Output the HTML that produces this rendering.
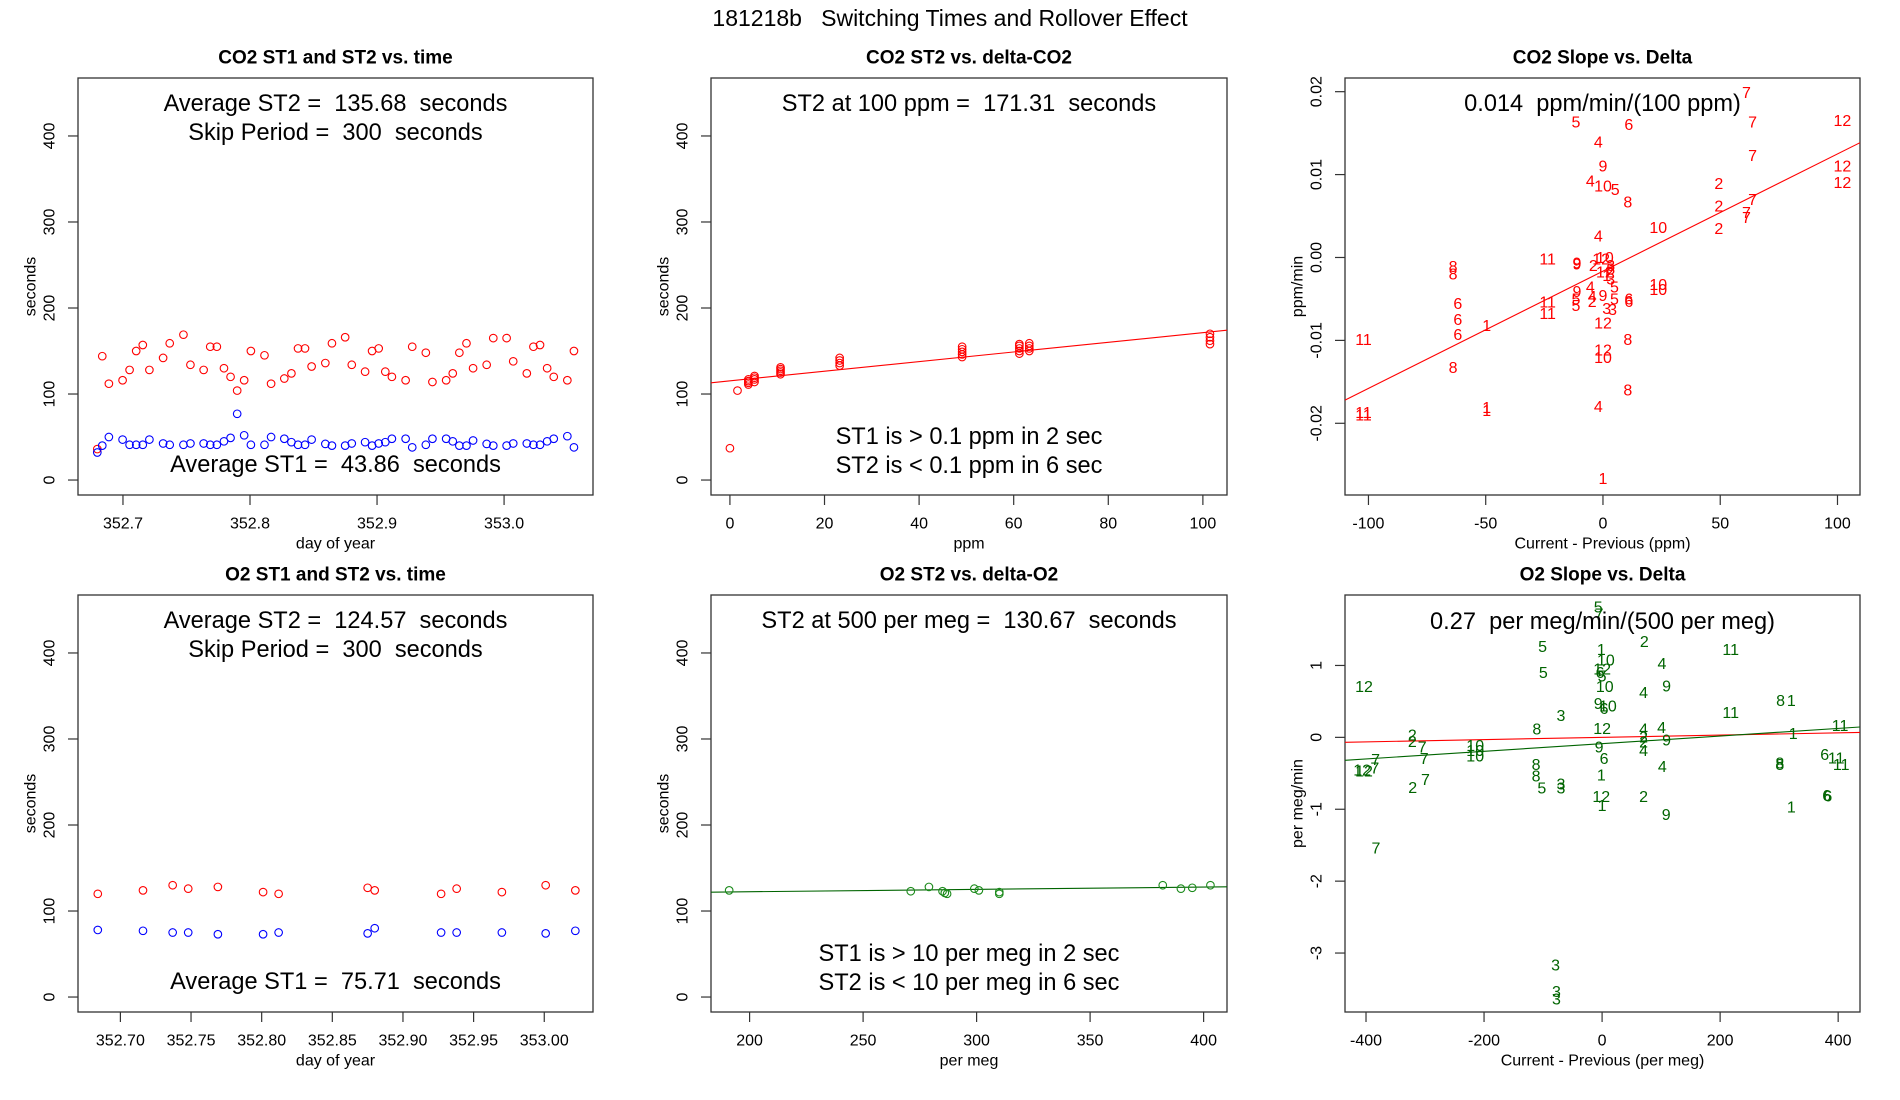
<!DOCTYPE html>
<html><head><meta charset="utf-8"><title>181218b Switching Times and Rollover Effect</title>
<style>
html,body{margin:0;padding:0;background:#fff;}
svg{display:block;font-family:"Liberation Sans",Arial,sans-serif;}
text{white-space:pre;}
</style></head>
<body>
<svg id="fig" width="1900" height="1100" viewBox="0 0 1900 1100" xmlns="http://www.w3.org/2000/svg">
<rect x="0" y="0" width="1900" height="1100" fill="#fff"/>
<text x="950" y="18" font-size="23" text-anchor="middle" dominant-baseline="central" xml:space="preserve">181218b   Switching Times and Rollover Effect</text>
</svg>
<script>
// ---- Panel 1: CO2 ST1/ST2 vs time ----
const co2Days = [352.6798,352.6837,352.6889,352.6997,352.7052,352.7104,352.7156,352.7208,352.7316,352.7368,352.7476,352.7531,352.7635,352.7687,352.7739,352.7795,352.7847,352.7899,352.7954,352.8007,352.8114,352.8166,352.8270,352.8326,352.8378,352.8433,352.8485,352.8593,352.8645,352.8749,352.8801,352.8906,352.8961,352.9013,352.9065,352.9117,352.9225,352.9277,352.9384,352.9436,352.9544,352.9596,352.9648,352.9704,352.9756,352.9863,352.9915,353.0020,353.0072,353.0179,353.0231,353.0283,353.0339,353.0391,353.0498,353.0550];
const co2St2 = [36,144,112,116,128,150,157,128,142,159,169,134,128,155,155,130,120,104,116,150,145,112,118,124,153,153,132,136,159,166,134,126,150,153,126,120,116,155,148,114,116,124,148,159,130,134,165,165,138,124,155,157,130,120,116,150];
const co2St1 = [32,40,50,47,41,41,41,47,42.5,41,41,42.5,42.5,41,41,45,49,77,52,41,41,50,48,44,41,41,47,42,40,40,42.5,44,40,42.5,44,48,48,38,41,48,48,45,40,40,46,42,40,40,42.5,42.5,41,41,45,48,51,38];
const timeTicks1 = [352.7,352.8,352.9,353.0];
const timeTickLabels1 = ["352.7","352.8","352.9","353.0"];
const secTicks = [0,100,200,300,400];
const secTickLabels = ["0","100","200","300","400"];

// ---- Panel 2: CO2 ST2 vs delta ----
const co2Delta = [0,1.6,3.9,3.9,3.9,3.9,5.2,5.2,5.2,5.2,10.7,10.7,10.7,10.7,10.7,23.2,23.2,23.2,23.2,49.1,49.1,49.1,49.1,49.1,61.2,61.2,61.2,61.2,61.2,63.3,63.3,63.3,63.3,101.5,101.5,101.5,101.5];
const co2DeltaSt2 = [37,104,111,113,115,117,114,117,119,121,123,125,127,129,131,133,136,139,142,143,146,149,152,155,147,150,153,156,158,150,153,156,159,158,162,166,170];
const co2FitIntercept = 115.3;
const co2FitSlope = 0.56;
const ppmTicks = [0,20,40,60,80,100];
const ppmTickLabels = ["0","20","40","60","80","100"];

// ---- Panel 3: CO2 slope vs delta ----
const co2SlopeLabels = ["7","5","6","7","12","4","7","9","12","4","10","5","12","2","8","7","2","7","7","10","2","4","11","9","9","2","12","10","3","8","8","8","12","1","3","5","10","10","4","9","11","5","5","4","2","9","5","6","6","3","3","6","6","6","11","1","12","11","8","12","10","8","8","4","1","1","11","11","1"];
const co2SlopeX = [61.2,-11.5,11.0,63.8,102.1,-2.0,63.8,0,102.1,-5.4,0,5.2,102.1,49.4,10.6,63.8,49.4,61.2,61.2,23.6,49.4,-2.0,-23.6,-11.1,-11.1,-4.1,-0.8,0.8,3.3,3.3,-63.9,-63.9,0.8,1.6,3.3,4.9,23.6,23.6,-5.4,-11.1,-23.6,-11.5,-11.5,-4.6,-4.6,0,4.9,11.0,11.0,1.6,4.1,-61.9,-61.9,-61.9,-23.6,-49.6,0,-102.1,10.6,0,0,-63.9,10.6,-2.0,-49.6,-49.6,-102.1,-102.1,0];
const co2SlopeY = [0.0198,0.0162,0.0159,0.0162,0.0164,0.0138,0.0122,0.0109,0.0109,0.0091,0.0085,0.0081,0.0089,0.0088,0.0066,0.0069,0.0061,0.0053,0.0047,0.0035,0.0034,0.0025,-0.0003,-0.0009,-0.0008,-0.0011,-0.0003,-0.0001,-0.0011,-0.0015,-0.0012,-0.0021,-0.0019,-0.0023,-0.0027,-0.0037,-0.0034,-0.0040,-0.0037,-0.0042,-0.0055,-0.0051,-0.0059,-0.0048,-0.0054,-0.0047,-0.0051,-0.0051,-0.0054,-0.0063,-0.0064,-0.0057,-0.0076,-0.0094,-0.0069,-0.0083,-0.0080,-0.0100,-0.0100,-0.0113,-0.0122,-0.0134,-0.0161,-0.0181,-0.0182,-0.0186,-0.0188,-0.0191,-0.0268];
const co2SlopeFitIntercept = -0.00165;
const co2SlopeFitSlope = 0.0001414;
const co2DeltaTicks = [-100,-50,0,50,100];
const co2DeltaTickLabels = ["-100","-50","0","50","100"];
const co2SlopeTicks = [-0.02,-0.01,0,0.01,0.02];
const co2SlopeTickLabels = ["-0.02","-0.01","0.00","0.01","0.02"];

// ---- Panel 4: O2 ST1/ST2 vs time ----
const o2Days = [352.684,352.716,352.737,352.748,352.769,352.801,352.812,352.875,352.880,352.927,352.938,352.970,353.001,353.022];
const o2St2 = [120,124,130,126,128,122,120,127,124,120,126,122,130,124];
const o2St1 = [78,77,75,75,73,73,75,74,80,75,75,75,74,77];
const timeTicks4 = [352.70,352.75,352.80,352.85,352.90,352.95,353.00];
const timeTickLabels4 = ["352.70","352.75","352.80","352.85","352.90","352.95","353.00"];

// ---- Panel 5: O2 ST2 vs delta ----
const o2Delta = [191,271,279,285,287,286,299,301,310,310,382,390,395,403];
const o2DeltaSt2 = [124,123,128,123,120,121,126,124,122,120,130,126,127,130];
const o2FitIntercept = 116.9;
const o2FitSlope = 0.0275;
const perMegTicks = [200,250,300,350,400];
const perMegTickLabels = ["200","250","300","350","400"];

// ---- Panel 6: O2 slope vs delta ----
const o2SlopeLabels = ["5","7","5","2","1","11","10","4","12","6","5","5","12","10","9","4","8","1","9","10","6","3","11","8","12","4","4","11","1","2","2","2","9","7","10","10","10","9","2","4","7","7","6","6","11","11","8","8","12","12","7","8","8","4","1","3","3","7","2","5","12","2","1","6","6","1","9","7","3","3","3"];
const o2SlopeX = [-6.5,-5.2,-100.8,71.5,-1.3,217.9,6.5,101.5,0,-3.3,0,-99.5,-403.3,4.6,109.3,70.2,302.4,320.7,-6.5,9.8,3.3,-69.6,217.9,-110.6,0,70.2,100.8,403.3,323.9,-321.6,-321.6,70.2,109.3,-304.7,-215.0,-215.0,-215.0,-5.2,70.2,70.2,-383.7,-301.5,3.3,377.2,396.7,405.2,301.1,301.1,-406.5,-403.3,-385.0,-111.9,-111.9,102.1,-1.3,-69.6,-69.6,-299.2,-320.9,-102.1,-1.3,70.2,0,380.5,382.4,320.7,108.6,-383.1,-78.7,-77.4,-77.4];
const o2SlopeY = [1.80,1.70,1.25,1.32,1.21,1.21,1.06,1.01,0.94,0.89,0.84,0.89,0.69,0.69,0.70,0.61,0.50,0.50,0.46,0.42,0.39,0.29,0.33,0.10,0.11,0.10,0.12,0.15,0.04,0.02,-0.07,-0.01,-0.05,-0.15,-0.13,-0.20,-0.27,-0.15,-0.08,-0.20,-0.32,-0.31,-0.31,-0.25,-0.30,-0.39,-0.37,-0.39,-0.47,-0.48,-0.44,-0.39,-0.55,-0.42,-0.54,-0.66,-0.72,-0.60,-0.71,-0.72,-0.84,-0.84,-0.96,-0.82,-0.83,-0.98,-1.09,-1.55,-3.18,-3.55,-3.65];
const o2SlopeFitIntercept = -0.088;
const o2SlopeFitSlope = 0.000531;
const o2RedFitIntercept = 0.0;
const o2RedFitSlope = 0.000157;
const o2DeltaTicks = [-400,-200,0,200,400];
const o2DeltaTickLabels = ["-400","-200","0","200","400"];
const o2SlopeTicks = [-3,-2,-1,0,1];
const o2SlopeTickLabels = ["-3","-2","-1","0","1"];

const NS = "http://www.w3.org/2000/svg";
const svg = document.getElementById('fig');
function mk(tag, attrs, parent){
  const e = document.createElementNS(NS, tag);
  for (const k in attrs) e.setAttribute(k, attrs[k]);
  (parent||svg).appendChild(e);
  return e;
}
function txt(s, x, y, size, extra, parent){
  const a = {x:x, y:y, 'font-size':size, 'text-anchor':'middle', 'dominant-baseline':'central'};
  for (const k in (extra||{})) a[k]=extra[k];
  const e = mk('text', a, parent);
  e.textContent = s;
  return e;
}

function panel(cfg){
  const g = mk('g', {});
  
  
  const X = v => cfg.x0 + (v - cfg.xlim[0])/(cfg.xlim[1]-cfg.xlim[0])*(cfg.x1-cfg.x0);
  const Y = v => cfg.y1 - (v - cfg.ylim[0])/(cfg.ylim[1]-cfg.ylim[0])*(cfg.y1-cfg.y0);
  const t = txt(cfg.title, (cfg.x0+cfg.x1)/2, cfg.y0-20, 19, {'font-weight':'bold'}, g);
  
  
  const box = mk('rect', {x:cfg.x0, y:cfg.y0, width:cfg.x1-cfg.x0, height:cfg.y1-cfg.y0, fill:'none', stroke:'#333', 'stroke-width':1.3}, g);
  
  
  const xa = mk('g', {}, g);
  
  
  cfg.xticks.forEach((v,i)=>{
    const tk = mk('line', {x1:X(v), x2:X(v), y1:cfg.y1, y2:cfg.y1+10, stroke:'#333', 'stroke-width':1.2}, xa);
    
    
    const tl = txt(cfg.xlabels[i], X(v), cfg.y1+29, 16, {}, xa);
    
    
  });
  const xt = txt(cfg.xtitle, (cfg.x0+cfg.x1)/2, cfg.y1+49, 16, {}, g);
  
  
  const ya = mk('g', {}, g);
  
  
  cfg.yticks.forEach((v,i)=>{
    const tk = mk('line', {x1:cfg.x0-10, x2:cfg.x0, y1:Y(v), y2:Y(v), stroke:'#333', 'stroke-width':1.2}, ya);
    
    
    const lx = cfg.x0-28;
    const tl = txt(cfg.ylabels[i], lx, Y(v), 16, {transform:`rotate(-90 ${lx} ${Y(v)})`}, ya);
    
    
  });
  const yx = cfg.x0-47;
  const yt = txt(cfg.ytitle, yx, (cfg.y0+cfg.y1)/2, 16, {transform:`rotate(-90 ${yx} ${(cfg.y0+cfg.y1)/2})`}, g);
  
  
  return {g, X, Y, cfg};
}

function circles(p, xs, ys, color, name){
  const s = mk('g', {}, p.g);
  
  
  xs.forEach((x,i)=>{
    const c = mk('circle', {cx:p.X(x), cy:p.Y(ys[i]), r:3.8, fill:'none', stroke:color, 'stroke-width':1.1}, s);
    
    
  });
}
function labels(p, xs, ys, labs, color, name){
  const s = mk('g', {}, p.g);
  
  
  xs.forEach((x,i)=>{
    const t = txt(labs[i], p.X(x), p.Y(ys[i]), 16, {fill:color}, s);
    
    
  });
}
function fitLine(p, a, b, color, name){
  const xl = p.cfg.xlim;
  const l = mk('line', {x1:p.X(xl[0]), y1:p.Y(a+b*xl[0]), x2:p.X(xl[1]), y2:p.Y(a+b*xl[1]), stroke:color, 'stroke-width':1.1}, p.g);
  
  
}
function note(p, s, y, name){
  const t = txt(s, (p.cfg.x0+p.cfg.x1)/2, y, 23.6, {'xml:space':'preserve'}, p.g);
  
  
}

const secYlim = [-17.4, 467.4];

const p1 = panel({name:'co2-st-vs-time-panel', title:'CO2 ST1 and ST2 vs. time', x0:78, x1:593, y0:78, y1:495,
  xlim:[352.6646,353.070], ylim:secYlim, xticks:timeTicks1, xlabels:timeTickLabels1, yticks:secTicks, ylabels:secTickLabels,
  xtitle:'day of year', ytitle:'seconds'});
circles(p1, co2Days, co2St2, '#ff0000', 'st2-series');
circles(p1, co2Days, co2St1, '#0000ff', 'st1-series');
note(p1, 'Average ST2 =  135.68  seconds', 104, 'average-st2-note');
note(p1, 'Skip Period =  300  seconds', 133, 'skip-period-note');
note(p1, 'Average ST1 =  43.86  seconds', 465, 'average-st1-note');

const p2 = panel({name:'co2-st2-vs-delta-panel', title:'CO2 ST2 vs. delta-CO2', x0:711, x1:1227, y0:78, y1:495,
  xlim:[-4.0,105.1], ylim:secYlim, xticks:ppmTicks, xlabels:ppmTickLabels, yticks:secTicks, ylabels:secTickLabels,
  xtitle:'ppm', ytitle:'seconds'});
fitLine(p2, co2FitIntercept, co2FitSlope, '#ff0000', 'fit-line');
circles(p2, co2Delta, co2DeltaSt2, '#ff0000', 'st2-series');
note(p2, 'ST2 at 100 ppm =  171.31  seconds', 104, 'st2-at-100-note');
note(p2, 'ST1 is > 0.1 ppm in 2 sec', 437, 'st1-threshold-note');
note(p2, 'ST2 is < 0.1 ppm in 6 sec', 466, 'st2-threshold-note');

const p3 = panel({name:'co2-slope-vs-delta-panel', title:'CO2 Slope vs. Delta', x0:1345, x1:1860, y0:78, y1:495,
  xlim:[-110,109.6], ylim:[-0.02865,0.02165], xticks:co2DeltaTicks, xlabels:co2DeltaTickLabels, yticks:co2SlopeTicks, ylabels:co2SlopeTickLabels,
  xtitle:'Current - Previous (ppm)', ytitle:'ppm/min'});
fitLine(p3, co2SlopeFitIntercept, co2SlopeFitSlope, '#ff0000', 'fit-line');
labels(p3, co2SlopeX, co2SlopeY, co2SlopeLabels, '#ff0000', 'month-labels');
note(p3, '0.014  ppm/min/(100 ppm)', 104, 'slope-note');

const p4 = panel({name:'o2-st-vs-time-panel', title:'O2 ST1 and ST2 vs. time', x0:78, x1:593, y0:595, y1:1012,
  xlim:[352.670,353.0345], ylim:secYlim, xticks:timeTicks4, xlabels:timeTickLabels4, yticks:secTicks, ylabels:secTickLabels,
  xtitle:'day of year', ytitle:'seconds'});
circles(p4, o2Days, o2St2, '#ff0000', 'st2-series');
circles(p4, o2Days, o2St1, '#0000ff', 'st1-series');
note(p4, 'Average ST2 =  124.57  seconds', 621, 'average-st2-note');
note(p4, 'Skip Period =  300  seconds', 650, 'skip-period-note');
note(p4, 'Average ST1 =  75.71  seconds', 982, 'average-st1-note');

const p5 = panel({name:'o2-st2-vs-delta-panel', title:'O2 ST2 vs. delta-O2', x0:711, x1:1227, y0:595, y1:1012,
  xlim:[183,410.3], ylim:secYlim, xticks:perMegTicks, xlabels:perMegTickLabels, yticks:secTicks, ylabels:secTickLabels,
  xtitle:'per meg', ytitle:'seconds'});
fitLine(p5, o2FitIntercept, o2FitSlope, '#006400', 'fit-line');
circles(p5, o2Delta, o2DeltaSt2, '#1a8a1a', 'st2-series');
note(p5, 'ST2 at 500 per meg =  130.67  seconds', 621, 'st2-at-500-note');
note(p5, 'ST1 is > 10 per meg in 2 sec', 954, 'st1-threshold-note');
note(p5, 'ST2 is < 10 per meg in 6 sec', 983, 'st2-threshold-note');

const p6 = panel({name:'o2-slope-vs-delta-panel', title:'O2 Slope vs. Delta', x0:1345, x1:1860, y0:595, y1:1012,
  xlim:[-435.6,437], ylim:[-3.82,1.98], xticks:o2DeltaTicks, xlabels:o2DeltaTickLabels, yticks:o2SlopeTicks, ylabels:o2SlopeTickLabels,
  xtitle:'Current - Previous (per meg)', ytitle:'per meg/min'});
fitLine(p6, o2RedFitIntercept, o2RedFitSlope, '#ff0000', 'reference-line');
fitLine(p6, o2SlopeFitIntercept, o2SlopeFitSlope, '#006400', 'fit-line');
labels(p6, o2SlopeX, o2SlopeY, o2SlopeLabels, '#006400', 'month-labels');
note(p6, '0.27  per meg/min/(500 per meg)', 622, 'slope-note');
</script>
</body></html>
